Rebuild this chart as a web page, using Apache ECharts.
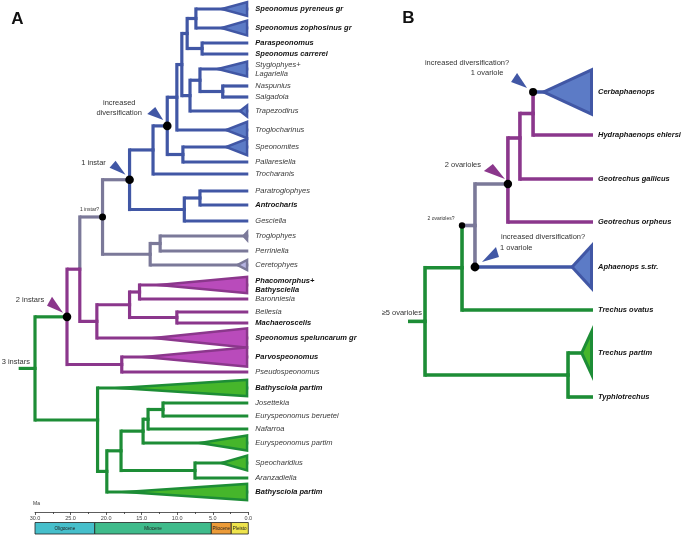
<!DOCTYPE html>
<html>
<head>
<meta charset="utf-8">
<script src="https://cdn.jsdelivr.net/npm/echarts@6/dist/echarts.min.js"></script>
<style>
  html, body { margin: 0; padding: 0; background: #fff; }
  #chart { width: 685px; height: 535px; }
</style>
</head>
<body>
<div id="chart"></div>
<script>
// ---------- panel A : Leptodirini, dated tree (Ma) ----------
const tipKeysA = ['pyr', 'zoph', 'paras', 'carr', 'styg', 'nasp', 'salg', 'trap', 'trogc', 'speonm', 'pall', 'troch',
  'parat', 'antro', 'gesc', 'troglo', 'perr', 'cere', 'phaco', 'baron', 'belle', 'machae', 'spelu', 'parvo', 'pseudo',
  'bath1', 'jose', 'eury1', 'nafa', 'eury2', 'speoc', 'aranz', 'bath2'];
const tipNamesA = ['Speonomus pyreneus gr', 'Speonomus zophosinus gr', 'Paraspeonomus', 'Speonomus carrerei',
  'Stygiophyes+\nLagariella', 'Naspunius', 'Salgadoia', 'Trapezodirus', 'Troglocharinus', 'Speonomites', 'Pallaresiella',
  'Trocharanis', 'Paratroglophyes', 'Antrocharis', 'Gesciella', 'Troglophyes', 'Perriniella', 'Ceretophyes',
  'Phacomorphus+\nBathysciella', 'Baronniesia', 'Bellesia', 'Machaeroscelis', 'Speonomus speluncarum gr',
  'Parvospeonomus', 'Pseudospeonomus', 'Bathysciola partim', 'Josettekia', 'Euryspeonomus beruetei', 'Nafarroa',
  'Euryspeonomus partim', 'Speocharidius', 'Aranzadiella', 'Bathysciola partim'];
// vertical slot of every tip (top = 0)
const tipRowsA = [9, 28, 43, 54, 69, 86, 97, 111, 130, 147, 162, 174, 191, 205, 221, 236, 251, 265, 285, 299, 312, 323,
  338, 357, 372, 388, 403, 416, 429, 443, 463, 478, 492];
const tipBoldA = [1, 1, 1, 1, 0, 0, 0, 0, 0, 0, 0, 0, 0, 1, 0, 0, 0, 0, 1, 0, 0, 1, 1, 1, 0, 1, 0, 0, 0, 0, 0, 0, 1];
const tipCladeA = ['blue', 'blue', 'blue', 'blue', 'blue', 'blue', 'blue', 'blue', 'blue', 'blue', 'blue', 'blue', 'blue',
  'blue', 'blue', 'grey', 'grey', 'grey', 'purple', 'purple', 'purple', 'purple', 'purple', 'purple', 'purple',
  'green', 'green', 'green', 'green', 'green', 'green', 'green', 'green'];

// collapsed clades drawn as triangles: start age (Ma) and half height
const triTipA = ['pyr', 'zoph', 'styg', 'trap', 'trogc', 'speonm', 'troglo', 'cere', 'phaco', 'spelu', 'parvo', 'bath1', 'eury2', 'speoc', 'bath2'];
const triStartA = [4.4, 4.4, 5.0, 1.45, 3.6, 3.6, 0.9, 1.9, 14.5, 15.0, 16.5, 21.0, 7.9, 4.4, 19.9];
const triHalfA = [8.5, 9, 9, 8, 10, 10, 7, 7, 9.5, 11, 11, 9.5, 9, 9, 9.5];

// internal nodes, children before parents
const nodeKeysA = ['P1', 'P3', 'P2', 'J', 'I', 'H', 'G', 'E', 'F', 'D', 'K', 'N', 'M', 'L', 'R', 'Q', 'O', 'X', 'Y', 'W',
  'T', 'S', 'V', 'U', 'AG', 'AF', 'AD', 'AE', 'AC', 'AB', 'AA', 'Z'];
const nodeKidsA = [['pyr', 'zoph'], ['paras', 'carr'], ['P1', 'P3'], ['nasp', 'salg'], ['styg', 'J'], ['I', 'trap'],
  ['P2', 'H'], ['G', 'trogc'], ['speonm', 'pall'], ['E', 'F'], ['D', 'troch'], ['parat', 'antro'], ['N', 'gesc'],
  ['K', 'M'], ['troglo', 'perr'], ['R', 'cere'], ['L', 'Q'], ['phaco', 'baron'], ['belle', 'machae'], ['X', 'Y'],
  ['W', 'spelu'], ['O', 'T'], ['parvo', 'pseudo'], ['S', 'V'], ['jose', 'eury1'], ['AG', 'nafa'], ['AF', 'eury2'],
  ['speoc', 'aranz'], ['AD', 'AE'], ['AC', 'bath2'], ['bath1', 'AB'], ['U', 'AA']];
const nodeAgesA = [7.37, 6.5, 8.6, 3.6, 6.8, 8.2, 9.35, 10.05, 9.2, 11.4, 13.4, 6.8, 9.0, 16.7, 12.4, 13.8, 20.5, 15.3,
  10.05, 16.7, 21.3, 23.7, 17.8, 25.5, 12.0, 14.1, 14.8, 7.5, 17.9, 19.9, 21.2, 30.0];
const nodeCladeA = ['blue', 'blue', 'blue', 'blue', 'blue', 'blue', 'blue', 'blue', 'blue', 'blue', 'blue', 'blue', 'blue',
  'grey', 'grey', 'grey', 'grey', 'purple', 'purple', 'purple', 'purple', 'purple', 'purple', 'green', 'green', 'green',
  'green', 'green', 'green', 'green', 'green', 'green'];
const rowFixA = { AA: 420 };
const rootStemA = 32.3;

// geological epochs under the time axis (Ma)
const epochNames = ['Oligocene', 'Miocene', 'Pliocene', 'Pleisto'];
const epochStart = [30, 21.6, 5.2, 2.4];
const epochEnd = [21.6, 5.2, 2.4, 0];
const epochColors = ['#46bfcb', '#3fbb8b', '#ec9b38', '#efe44c'];

// ---------- panel B : Trechini, relative depth 0-100 ----------
const tipKeysB = ['cerb', 'hydra', 'gall', 'orph', 'aphae', 'ovat', 'tpart', 'typh'];
const tipNamesB = ['Cerbaphaenops', 'Hydraphaenops ehlersi', 'Geotrechus gallicus', 'Geotrechus orpheus',
  'Aphaenops s.str.', 'Trechus ovatus', 'Trechus partim', 'Typhlotrechus'];
const tipRowsB = [92, 135, 179, 222, 267, 310, 353, 397];
const tipCladeB = ['blue', 'purple', 'purple', 'purple', 'blue', 'green', 'green', 'green'];
const triTipB = ['cerb', 'aphae', 'tpart'];
const triStartB = [71.4, 87.6, 93.0];
const triHalfB = [24.5, 25, 28];
const nodeKeysB = ['b1', 'b2', 'b3', 'b4', 'b5', 'b7', 'b6'];
const nodeKidsB = [['cerb', 'hydra'], ['b1', 'gall'], ['b2', 'orph'], ['b3', 'aphae'], ['b4', 'ovat'], ['tpart', 'typh'], ['b5', 'b7']];
const nodeDepthB = [67.6, 60.5, 54.0, 36.2, 29.2, 86.5, 9.2];
const nodeCladeB = ['purple', 'purple', 'grey', 'grey', 'green', 'green', 'green'];   // branch leading to node
const nodeVertB = ['purple', 'purple', 'purple', 'grey', 'green', 'green', 'green'];   // node's own vertical
const rowFixB = { b2: 138, b3: 184 };
const rootStemB = 0;

// ---------- style ----------
const FONT = '"Liberation Sans", Arial, Helvetica, sans-serif';
const COL = {
  blue: { line: '#4157a5', fill: '#5c7bc6' },
  grey: { line: '#7b7999', fill: '#b5b3e1' },
  purple: { line: '#8b378c', fill: '#b94bbb' },
  green: { line: '#1d8d36', fill: '#46b62b' }
};

function buildTree(p) {
  const pos = {}, col = {};
  p.tipKeys.forEach((k, i) => { pos[k] = [p.tipX, p.tipRows[i]]; col[k] = p.tipClade[i]; });
  p.nodeKeys.forEach((k, i) => {
    const [a, b] = p.nodeKids[i];
    const y = (k in p.rowFix) ? p.rowFix[k] : (pos[a][1] + pos[b][1]) / 2;
    pos[k] = [p.nodeX[i], y];
    col[k] = p.nodeClade[i];
  });
  const vSegs = [], vCols = [], hSegs = [], hCols = [];
  p.nodeKeys.forEach((k, i) => {
    p.nodeKids[i].forEach(c => {
      vSegs.push([pos[k][0], pos[k][1], pos[k][0], pos[c][1]]);
      vCols.push(COL[p.nodeVert ? p.nodeVert[i] : col[c]].line);
      hSegs.push([pos[k][0], pos[c][1], pos[c][0], pos[c][1]]);
      hCols.push(COL[col[c]].line);
    });
  });
  const r = p.nodeKeys[p.nodeKeys.length - 1];
  hSegs.push([p.rootStem, pos[r][1], pos[r][0], pos[r][1]]);
  hCols.push(COL[col[r]].line);
  return { pos, col, vSegs, vCols, hSegs, hCols };
}

const A = buildTree({ tipKeys: tipKeysA, tipRows: tipRowsA, tipClade: tipCladeA, tipX: 0,
  nodeKeys: nodeKeysA, nodeKids: nodeKidsA, nodeX: nodeAgesA, nodeClade: nodeCladeA, rowFix: rowFixA, rootStem: rootStemA });
const B = buildTree({ tipKeys: tipKeysB, tipRows: tipRowsB, tipClade: tipCladeB, tipX: 100,
  nodeKeys: nodeKeysB, nodeKids: nodeKidsB, nodeX: nodeDepthB, nodeClade: nodeCladeB, nodeVert: nodeVertB,
  rowFix: rowFixB, rootStem: rootStemB });

// annotations: [node giving x, node giving y]
const dotsA = [['D', 'D', 4.3], ['L', 'L', 4.3], ['O', 'O', 3.5], ['U', 'U', 4.3]];
const dotsB = [['b1', 'cerb', 4], ['b3', 'b3', 4.2], ['b4', 'aphae', 4.4], ['b5', 'b4', 3.2]];
const pointersA = [
  { at: ['D', 'D'], c: 'blue', pts: [[-12, -19], [-20, -12], [-4, -6]] },
  { at: ['L', 'L'], c: 'blue', pts: [[-14, -19], [-20, -12], [-4, -5]] },
  { at: ['U', 'U'], c: 'purple', pts: [[-15, -20], [-20, -11], [-4, -4]] }
];
const pointersB = [
  { at: ['b1', 'cerb'], c: 'blue', pts: [[-16, -19], [-22, -10], [-6, -4]] },
  { at: ['b3', 'b3'], c: 'purple', pts: [[-15, -20], [-24, -13], [-3, -5]] },
  { at: ['b4', 'aphae'], c: 'blue', pts: [[21, -20], [24, -10], [7, -5]] }
];
const notesA = [
  { at: ['D', 'D'], t: 'increased\ndiversification', dx: -48, dy: -18, al: 'center', fs: 7.5 },
  { at: ['L', 'L'], t: '1 instar', dx: -36, dy: -17, al: 'center', fs: 7.5 },
  { at: ['O', 'O'], t: '1 instar?', dx: -13, dy: -7, al: 'center', fs: 5 },
  { at: ['U', 'U'], t: '2 instars', dx: -37, dy: -17, al: 'center', fs: 7.5 },
  { at: ['Z', 'Z'], t: '3 instars', dx: -5, dy: -6, al: 'right', fs: 7.5 }
];
const notesB = [
  { at: ['b1', 'cerb'], t: 'increased diversification?', dx: -66, dy: -29, al: 'center', fs: 7.5 },
  { at: ['b1', 'cerb'], t: '1 ovariole', dx: -46, dy: -19, al: 'center', fs: 7.5 },
  { at: ['b3', 'b3'], t: '2 ovarioles', dx: -45, dy: -19, al: 'center', fs: 7.5 },
  { at: ['b5', 'b4'], t: '2 ovarioles?', dx: -21, dy: -7, al: 'center', fs: 5 },
  { at: ['b4', 'aphae'], t: 'increased diversification?', dx: 26, dy: -30, al: 'left', fs: 7.5 },
  { at: ['b4', 'aphae'], t: '1 ovariole', dx: 25, dy: -19, al: 'left', fs: 7.5 },
  { at: ['b6', 'b6'], t: '\u22655 ovarioles', dx: -3, dy: -8, al: 'right', fs: 7.5 }
];

function segRender(cols, lw, cap) {
  return function (params, api) {
    const a = api.coord([api.value(0), api.value(1)]);
    const b = api.coord([api.value(2), api.value(3)]);
    return { type: 'line', shape: { x1: a[0], y1: a[1], x2: b[0], y2: b[1] },
      style: { stroke: cols[params.dataIndex], lineWidth: lw, lineCap: cap } };
  };
}

function triRender(tipX, clades, inset, solid) {
  return function (params, api) {
    const ap = api.coord([api.value(0), api.value(1)]);
    const top = api.coord([tipX, api.value(1) - api.value(2)]);
    const bot = api.coord([tipX, api.value(1) + api.value(2)]);
    const L = top[0] - ap[0], h = (bot[1] - top[1]) / 2;
    const sin = h / Math.hypot(h, L);
    const ax2 = ap[0] + inset / sin, R2 = top[0] - inset;
    const h2 = Math.max(0, (R2 - ax2) * h / L);
    const c = COL[clades[params.dataIndex]];
    const kids = [{ type: 'polygon', shape: { points: [ap, top, bot] }, style: { fill: c.line } }];
    if (!solid[params.dataIndex] && R2 > ax2) {
      kids.push({ type: 'polygon', shape: { points: [[ax2, ap[1]], [R2, ap[1] - h2], [R2, ap[1] + h2]] }, style: { fill: c.fill } });
    }
    return { type: 'group', children: kids };
  };
}

function panelSeries(T, opt) {
  const base = { type: 'custom', xAxisIndex: opt.xi, yAxisIndex: opt.yi, silent: true, clip: false };
  const triClades = opt.triTip.map(k => T.col[k]);
  const tipFont = (bold) => ({ fontFamily: FONT, fontSize: 7.5, fontStyle: 'italic', fontWeight: bold ? 'bold' : 'normal' });
  return [
    { ...base, data: T.vSegs, renderItem: segRender(T.vCols, opt.lw, 'square') },
    { ...base, data: T.hSegs, renderItem: segRender(T.hCols, opt.lw, 'butt') },
    { ...base, data: opt.triTip.map((k, i) => [opt.triStart[i], T.pos[k][1], opt.triHalf[i]]),
      renderItem: triRender(opt.tipX, triClades, opt.inset, opt.triTip.map(k => k === 'troglo')) },
    { ...base, data: opt.dots.map(d => [T.pos[d[0]][0], T.pos[d[1]][1], d[2]]),
      renderItem: (params, api) => {
        const p = api.coord([api.value(0), api.value(1)]);
        return { type: 'circle', shape: { cx: p[0], cy: p[1], r: api.value(2) }, style: { fill: '#000' } };
      } },
    { ...base, data: opt.pointers.map(d => [T.pos[d.at[0]][0], T.pos[d.at[1]][1]]),
      renderItem: (params, api) => {
        const p = api.coord([api.value(0), api.value(1)]);
        const d = opt.pointers[params.dataIndex];
        return { type: 'polygon', shape: { points: d.pts.map(q => [p[0] + q[0], p[1] + q[1]]) },
          style: { fill: COL[d.c].line } };
      } },
    { ...base, data: opt.notes.map(d => [T.pos[d.at[0]][0], T.pos[d.at[1]][1]]),
      renderItem: (params, api) => {
        const p = api.coord([api.value(0), api.value(1)]);
        const d = opt.notes[params.dataIndex];
        return { type: 'text', x: p[0] + d.dx, y: p[1] + d.dy,
          style: { text: d.t, fill: '#333', fontFamily: FONT, fontSize: d.fs, align: d.al,
            verticalAlign: 'middle', lineHeight: 10 } };
      } },
    { ...base, data: opt.tipKeys.map(k => T.pos[k]),
      renderItem: (params, api) => {
        const p = api.coord([api.value(0), api.value(1)]);
        const bold = opt.tipBold[params.dataIndex];
        return { type: 'text', x: p[0] + opt.labelGap, y: p[1],
          style: Object.assign({ text: opt.tipNames[params.dataIndex], fill: bold ? '#111' : '#3a3a3a',
            align: 'left', verticalAlign: 'middle', lineHeight: 9 }, tipFont(bold)) };
      } }
  ];
}

const seriesA = panelSeries(A, { xi: 0, yi: 0, lw: 3.2, tipX: 0, inset: 2.5, triTip: triTipA, triStart: triStartA,
  triHalf: triHalfA, dots: dotsA, pointers: pointersA, notes: notesA, tipKeys: tipKeysA, tipNames: tipNamesA,
  tipBold: tipBoldA, labelGap: 7 });
const seriesB = panelSeries(B, { xi: 2, yi: 2, lw: 3.6, tipX: 100, inset: 3, triTip: triTipB, triStart: triStartB,
  triHalf: triHalfB, dots: dotsB, pointers: pointersB, notes: notesB, tipKeys: tipKeysB, tipNames: tipNamesB,
  tipBold: tipKeysB.map(() => 1), labelGap: 5 });

const epochSeries = {
  type: 'custom', xAxisIndex: 1, yAxisIndex: 1, silent: true,
  data: epochNames.map((n, i) => [epochStart[i], epochEnd[i]]),
  renderItem: (params, api) => {
    const a = api.coord([api.value(0), 1]);
    const b = api.coord([api.value(1), 0]);
    return { type: 'group', children: [
      { type: 'rect', shape: { x: a[0], y: a[1], width: b[0] - a[0], height: b[1] - a[1] },
        style: { fill: epochColors[params.dataIndex], stroke: '#222', lineWidth: 0.8 } },
      { type: 'text', x: (a[0] + b[0]) / 2, y: (a[1] + b[1]) / 2,
        style: { text: epochNames[params.dataIndex], fill: '#222', fontFamily: FONT, fontSize: 4.6,
          align: 'center', verticalAlign: 'middle' } }
    ] };
  }
};

const maLabel = {
  type: 'custom', xAxisIndex: 0, yAxisIndex: 0, silent: true, clip: false,
  data: [[30, 504]],
  renderItem: (params, api) => {
    const p = api.coord([api.value(0), api.value(1)]);
    return { type: 'text', x: p[0] - 2, y: p[1],
      style: { text: 'Ma', fill: '#333', fontFamily: FONT, fontSize: 5, align: 'left', verticalAlign: 'middle' } };
  }
};

const hiddenY = (gi, max) => ({ gridIndex: gi, type: 'value', min: 0, max: max, inverse: true, show: false });

const chart = echarts.init(document.getElementById('chart'), null, { renderer: 'canvas' });
chart.setOption({
  animation: false,
  backgroundColor: '#fff',
  grid: [
    { left: 35, top: 0, width: 213.3, height: 512, containLabel: false, outerBoundsMode: 'none' },
    { left: 35, top: 522.5, width: 213.3, height: 11.5, containLabel: false, outerBoundsMode: 'none' },
    { left: 408, top: 0, width: 185, height: 512, containLabel: false, outerBoundsMode: 'none' }
  ],
  xAxis: [
    { gridIndex: 0, type: 'value', min: 0, max: 30, interval: 5, inverse: true,
      axisLine: { show: true, onZero: false, lineStyle: { color: '#333', width: 0.8 } },
      axisTick: { show: true, length: 3, lineStyle: { color: '#333', width: 0.8 } },
      minorTick: { show: true, splitNumber: 2, length: 2, lineStyle: { color: '#333', width: 0.8 } },
      splitLine: { show: false }, minorSplitLine: { show: false },
      axisLabel: { fontSize: 5.5, fontFamily: FONT, color: '#444', margin: 3, showMinLabel: true, showMaxLabel: true,
        formatter: v => v.toFixed(1) } },
    { gridIndex: 1, type: 'value', min: 0, max: 30, inverse: true, show: false },
    { gridIndex: 2, type: 'value', min: 0, max: 100, show: false }
  ],
  yAxis: [hiddenY(0, 512), { gridIndex: 1, type: 'value', min: 0, max: 1, show: false }, hiddenY(2, 512)],
  graphic: [
    { type: 'text', x: 17.5, y: 19.5, style: { text: 'A', fontFamily: FONT, fontSize: 17, fontWeight: 'bold',
      fill: '#111', align: 'center', verticalAlign: 'middle' } },
    { type: 'text', x: 408.5, y: 18.5, style: { text: 'B', fontFamily: FONT, fontSize: 17, fontWeight: 'bold',
      fill: '#111', align: 'center', verticalAlign: 'middle' } }
  ],
  series: [...seriesA, ...seriesB, epochSeries, maLabel]
});
</script>
</body>
</html>
